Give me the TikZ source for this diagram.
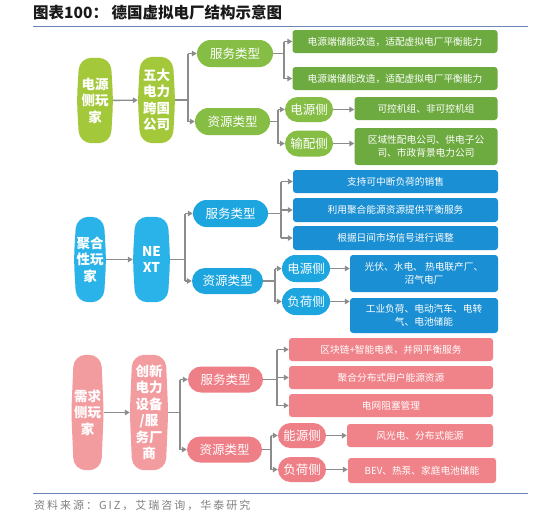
\documentclass[tikz,border=0pt]{standalone}
\usepackage{fontspec}
\setmainfont{Noto Sans CJK SC}
\newfontfamily\footfont[LetterSpace=18]{Noto Sans CJK SC}
\usetikzlibrary{arrows.meta,calc,shapes.misc}
\pgfdeclarelayer{bg0}
\pgfdeclarelayer{background}
\pgfsetlayers{bg0,background,main}
\definecolor{gplay}{HTML}{A3C93A}
\definecolor{gpill}{HTML}{86BE45}
\definecolor{gbox}{HTML}{6DAA3F}
\definecolor{bplay}{HTML}{29B3E8}
\definecolor{bpill}{HTML}{1DA5E0}
\definecolor{bbox}{HTML}{1A8FD3}
\definecolor{rplay}{HTML}{F29CA0}
\definecolor{rpill}{HTML}{EF7F86}
\definecolor{rbox}{HTML}{F08389}
\definecolor{arrgray}{HTML}{8C8C8C}
\definecolor{rulecol}{HTML}{6A86B4}
\newcommand\mybarrel[2]{%
  \begin{pgfonlayer}{background}
  \fill[#2,rounded corners=12pt] ([xshift=2.5pt]#1.north west) -- ([xshift=-2.5pt]#1.north east) -- (#1.east) -- ([xshift=-2.5pt]#1.south east) -- ([xshift=2.5pt]#1.south west) -- (#1.west) -- cycle;
  \end{pgfonlayer}}
\tikzset{
  sz/.style 2 args={minimum width=#1pt, minimum height=#2pt},
  player/.style={inner sep=0pt, text=white, align=center, font=\fontsize{13.5}{16.5}\selectfont\bfseries},
  pill/.style={shape=rounded rectangle, inner sep=0pt, text=white, font=\fontsize{12.5}{14}\selectfont},
  box/.style={rectangle, rounded corners=3pt, inner sep=0pt, text=white, align=center, font=\fontsize{9.7}{12.5}\selectfont},
  conn/.style={draw=arrgray, line width=1.4pt},
  arr/.style={draw=arrgray, line width=1.4pt, -{Triangle[length=5pt,width=5.5pt]}},
}
\begin{document}
\begin{tikzpicture}[x=1pt,y=-1pt]
\begin{pgfonlayer}{bg0}
\fill[white] (0,0) rectangle (534,517);
\end{pgfonlayer}
\useasboundingbox (0,0) rectangle (534,517);
% title
\node[anchor=west, inner sep=0pt, text=black!90, font=\fontsize{15.5}{17}\selectfont\bfseries] (title) at (33,13) {图表100：\ 德国虚拟电厂结构示意图};
\coordinate (tl1) at (33,26); \coordinate (tl2) at (528,26);
\draw[rulecol, line width=0.9pt] (tl1) -- (tl2);
\coordinate (fl1) at (33,493); \coordinate (fl2) at (528,493);
\draw[rulecol, line width=0.9pt] (fl1) -- (fl2);
\node[anchor=west, inner sep=0pt, text=black!50, font=\footfont\fontsize{11}{13}\selectfont] (foot) at (34,505) {资料来源：GIZ，艾瑞咨询，华泰研究};

% ===== green =====
\node[player, sz={36}{85}] (gP) at (95,100.5) {电源\\侧玩\\家};
\mybarrel{gP}{gplay}
\node[player, sz={37}{86}] (gC) at (156.5,100) {五大\\电力\\跨国\\公司};
\mybarrel{gC}{gplay}
\node[pill, fill=gpill, sz={76}{27}] (gS) at (235,53.5) {服务类型};
\node[pill, fill=gpill, sz={75}{27}] (gR) at (232.5,121.5) {资源类型};
\node[box, fill=gbox, sz={205}{23}] (gB1) at (395,41.5) {电源端储能改造，适配虚拟电厂平衡能力};
\node[box, fill=gbox, sz={205}{23}] (gB2) at (395,78.5) {电源端储能改造，适配虚拟电厂平衡能力};
\node[pill, fill=gpill, sz={48}{25}] (gE) at (309,109.5) {电源侧};
\node[pill, fill=gpill, sz={48}{26}] (gT) at (309,143.5) {输配侧};
\node[box, fill=gbox, sz={143}{23}] (gB3) at (426,108.5) {可控机组、非可控机组};
\node[box, fill=gbox, sz={143}{37}] (gB4) at (426,146.5) {区域性配电公司、供电子公\\司、市政背景电力公司};
\draw[arr] (gP) -- (gC);
\coordinate (gj1) at (188,100);
\draw[conn] (gC.east) -- (gj1);
\draw[conn] (gj1 |- gS.west) -- (gj1 |- gR.west);
\draw[arr] (gj1 |- gS.west) -- (gS.west);
\draw[arr] (gj1 |- gR.west) -- (gR.west);
\coordinate (gj2) at (284,53.5);
\draw[conn] (gS.east) -- (gj2);
\draw[conn] (gj2 |- gB1.west) -- (gj2 |- gB2.west);
\draw[arr] (gj2 |- gB1.west) -- (gB1.west);
\draw[arr] (gj2 |- gB2.west) -- (gB2.west);
\coordinate (gj3) at (278,121.5);
\draw[conn] (gR.east) -- (gj3);
\draw[conn] (gj3 |- gE.west) -- (gj3 |- gT.west);
\draw[arr] (gj3 |- gE.west) -- (gE.west);
\draw[arr] (gj3 |- gT.west) -- (gT.west);
\draw[arr] (gE.east) -- (gE.east -| gB3.west);
\draw[arr] (gT.east) -- (gT.east -| gB4.west);

% ===== blue =====
\node[player, sz={32}{85}] (bP) at (90,259.5) {聚合\\性玩\\家};
\mybarrel{bP}{bplay}
\node[player, sz={37}{85}] (bN) at (151.5,259.5) {NE\\XT};
\mybarrel{bN}{bplay}
\node[pill, fill=bpill, sz={75}{27}] (bS) at (230.5,213.5) {服务类型};
\node[pill, fill=bpill, sz={71}{26}] (bR) at (227.5,281) {资源类型};
\node[box, fill=bbox, sz={205}{23}] (bB1) at (395.5,181.5) {支持可中断负荷的销售};
\node[box, fill=bbox, sz={205}{24}] (bB2) at (395.5,210) {利用聚合能源资源提供平衡服务};
\node[box, fill=bbox, sz={205}{24}] (bB3) at (395.5,238) {根据日间市场信号进行调整};
\node[pill, fill=bpill, sz={48}{27}] (bE) at (306,268.5) {电源侧};
\node[pill, fill=bpill, sz={48}{27}] (bL) at (306,301.5) {负荷侧};
\node[box, fill=bbox, sz={148}{37}] (bB4) at (424,273.5) {光伏、水电、 热电联产厂、\\沼气电厂};
\node[box, fill=bbox, sz={148}{35}] (bB5) at (424,315.5) {工业负荷、电动汽车、电转\\气、电池储能};
\draw[arr] (bP) -- (bN);
\coordinate (bj1) at (185,259.5);
\draw[conn] (bN.east) -- (bj1);
\draw[conn] (bj1 |- bS.west) -- (bj1 |- bR.west);
\draw[arr] (bj1 |- bS.west) -- (bS.west);
\draw[arr] (bj1 |- bR.west) -- (bR.west);
\coordinate (bj2) at (281,213.5);
\draw[conn] (bS.east) -- (bj2);
\draw[conn] (bj2 |- bB1.west) -- (bj2 |- bB3.west);
\draw[arr] (bj2 |- bB1.west) -- (bB1.west);
\draw[arr] (bj2 |- bB2.west) -- (bB2.west);
\draw[arr] (bj2 |- bB3.west) -- (bB3.west);
\coordinate (bj3) at (275,281);
\draw[conn] (bR.east) -- (bj3);
\draw[conn] (bj3 |- bE.west) -- (bj3 |- bL.west);
\draw[arr] (bj3 |- bE.west) -- (bE.west);
\draw[arr] (bj3 |- bL.west) -- (bL.west);
\draw[arr] (bE.east) -- (bE.east -| bB4.west);
\draw[arr] (bL.east) -- (bL.east -| bB5.west);

% ===== red =====
\node[player, sz={32}{115}] (rP) at (87.5,412.5) {需求\\侧玩\\家};
\mybarrel{rP}{rplay}
\node[player, sz={38}{115}] (rC) at (149,412.5) {创新\\电力\\设备\\/服\\务厂\\商};
\mybarrel{rC}{rplay}
\node[pill, fill=rpill, sz={75}{26}] (rS) at (225.5,379.5) {服务类型};
\node[pill, fill=rpill, sz={75}{26}] (rR) at (224.5,449.5) {资源类型};
\node[box, fill=rbox, sz={204}{23}] (rB1) at (391,349.5) {区块链+智能电表，并网平衡服务};
\node[box, fill=rbox, sz={204}{23}] (rB2) at (391,377.5) {聚合分布式用户能源资源};
\node[box, fill=rbox, sz={204}{23}] (rB3) at (391,405.5) {电网阻塞管理};
\node[pill, fill=rpill, sz={48}{25}] (rE) at (302,435.5) {能源侧};
\node[pill, fill=rpill, sz={48}{25}] (rL) at (302,469.5) {负荷侧};
\node[box, fill=rbox, sz={146}{23}] (rB4) at (420,435.5) {风光电、分布式能源};
\node[box, fill=rbox, sz={148}{25}] (rB5) at (422,470.5) {BEV、热泵、家庭电池储能};
\draw[arr] (rP) -- (rC);
\coordinate (rj1) at (180,412.5);
\draw[conn] (rC.east) -- (rj1);
\draw[conn] (rj1 |- rS.west) -- (rj1 |- rR.west);
\draw[arr] (rj1 |- rS.west) -- (rS.west);
\draw[arr] (rj1 |- rR.west) -- (rR.west);
\coordinate (rj2) at (277,379.5);
\draw[conn] (rS.east) -- (rj2);
\draw[conn] (rj2 |- rB1.west) -- (rj2 |- rB3.west);
\draw[arr] (rj2 |- rB1.west) -- (rB1.west);
\draw[arr] (rj2 |- rB2.west) -- (rB2.west);
\draw[arr] (rj2 |- rB3.west) -- (rB3.west);
\coordinate (rj3) at (271,449.5);
\draw[conn] (rR.east) -- (rj3);
\draw[conn] (rj3 |- rE.west) -- (rj3 |- rL.west);
\draw[arr] (rj3 |- rE.west) -- (rE.west);
\draw[arr] (rj3 |- rL.west) -- (rL.west);
\draw[arr] (rE.east) -- (rE.east -| rB4.west);
\draw[arr] (rL.east) -- (rL.east -| rB5.west);
\end{tikzpicture}
\end{document}
